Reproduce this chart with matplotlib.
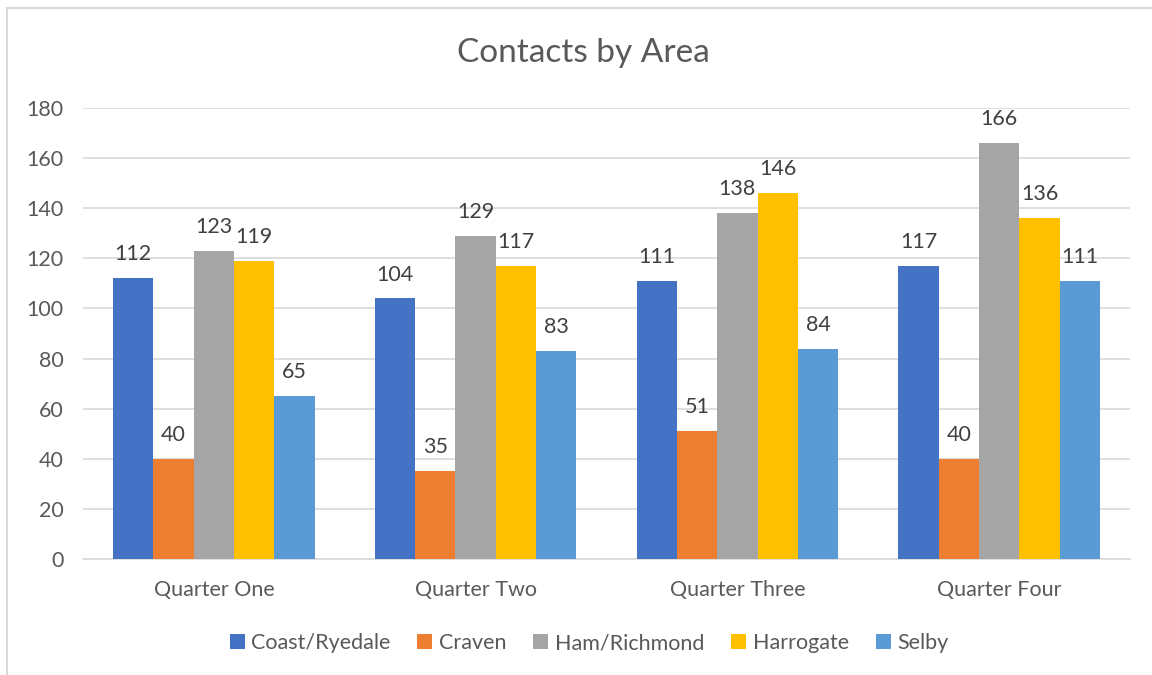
import matplotlib
matplotlib.use('Agg')
import matplotlib.pyplot as plt
import numpy as np
from matplotlib.patches import Rectangle

quarters = ['Quarter One', 'Quarter Two', 'Quarter Three', 'Quarter Four']
areas = ['Coast/Ryedale', 'Craven', 'Ham/Richmond', 'Harrogate', 'Selby']
coast = [112, 104, 111, 117]
craven = [40, 35, 51, 40]
ham = [123, 129, 138, 166]
harrogate = [119, 117, 146, 136]
selby = [65, 83, 84, 111]
series = [coast, craven, ham, harrogate, selby]
colors = ['#4472C4', '#ED7D31', '#A5A5A5', '#FFC000', '#5B9BD5']

plt.rcParams['font.family'] = ['Lato', 'DejaVu Sans']
txt = '#595959'

fig = plt.figure(figsize=(11.52, 6.75), dpi=100)
ax = fig.add_axes([83/1152, 1-559/675, (1130-83)/1152, (559-108)/675])

# рамка как у Excel
fig.patches.append(Rectangle((7/1152, -0.1), 1.2, 1 - 8/675 + 0.1, transform=fig.transFigure,
                             fill=False, edgecolor='#D9D9D9', linewidth=1.5))

x = np.arange(len(quarters))
w = 0.154
for i, (vals, name, c) in enumerate(zip(series, areas, colors)):
    pos = x + (i - 2) * w
    bars = ax.bar(pos, vals, width=w, color=c, label=name, zorder=3)
    for b, v in zip(bars, vals):
        ax.annotate(str(v), (b.get_x() + b.get_width()/2, v), xytext=(0, 10),
                    textcoords='offset points', ha='center', va='bottom',
                    fontsize=15.5, color='#404040')

ax.set_xlim(-0.5, 3.5)
ax.set_ylim(0, 180)
ax.set_yticks(range(0, 181, 20))
ax.set_xticks(x)
ax.set_xticklabels(quarters)
ax.grid(axis='y', color='#D9D9D9', linewidth=1.2, zorder=0)
for s in ['top', 'right', 'left']:
    ax.spines[s].set_visible(False)
ax.spines['bottom'].set_color('#D9D9D9')
ax.spines['bottom'].set_linewidth(1.2)
ax.tick_params(axis='both', length=0, labelsize=15.5, colors=txt)
ax.tick_params(axis='y', pad=14)
ax.tick_params(axis='x', pad=15)

fig.text(583/1152, 1-53/675, 'Contacts by Area', ha='center', va='center',
         fontsize=24, color=txt)

fig.legend(loc='center', bbox_to_anchor=(589/1152, 1-643/675), ncol=5, frameon=False,
           fontsize=15.5, labelcolor=txt, handlelength=0.7, handleheight=0.7,
           handletextpad=0.3, columnspacing=1.25)

fig.savefig('out.png', dpi=100)
